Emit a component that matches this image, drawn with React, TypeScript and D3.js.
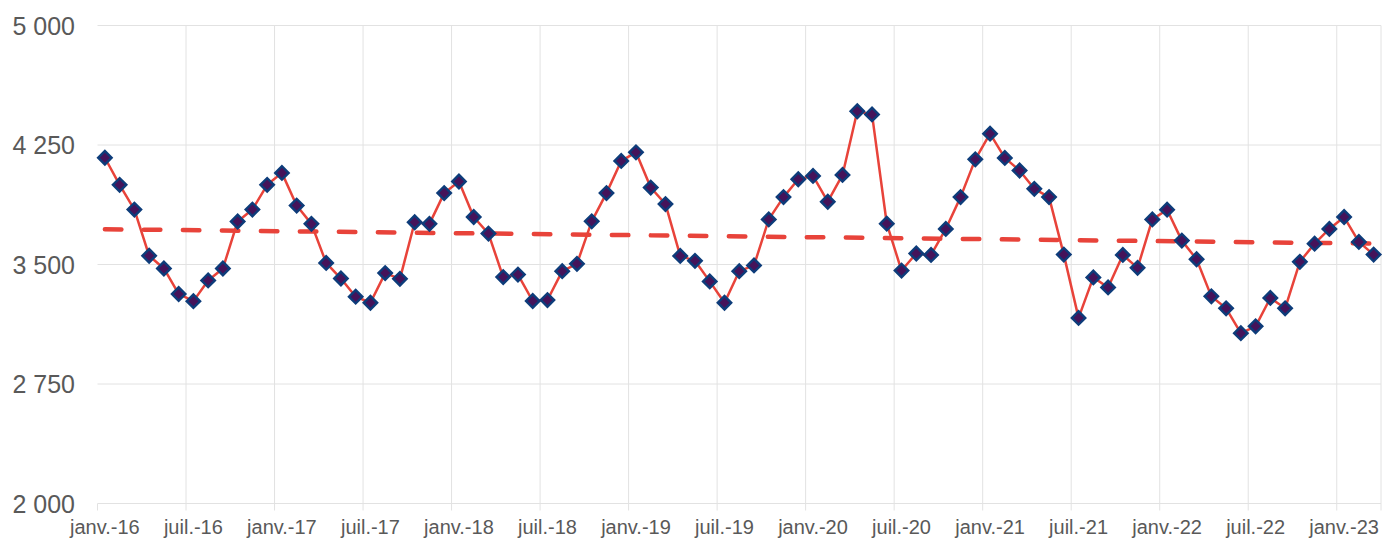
import React, { useEffect, useRef } from 'react';
import * as d3 from 'd3';

// monthly values
const v2016 = [4170, 4000, 3845, 3555, 3475, 3315, 3270, 3400, 3475, 3770, 3845, 4000];
const v2017 = [4075, 3870, 3755, 3510, 3412, 3298, 3260, 3446, 3410, 3765, 3755, 3948];
const v2018 = [4021, 3798, 3694, 3421, 3437, 3271, 3277, 3458, 3504, 3771, 3948, 4150];
const v2019 = [4204, 3983, 3879, 3554, 3523, 3394, 3260, 3458, 3494, 3783, 3923, 4035];
const v2020 = [4056, 3894, 4062, 4462, 4442, 3756, 3462, 3569, 3560, 3723, 3923, 4160];
const v2021 = [4321, 4169, 4090, 3975, 3923, 3562, 3165, 3419, 3356, 3560, 3479, 3783];
const v2022 = [3844, 3650, 3533, 3300, 3225, 3069, 3112, 3290, 3225, 3517, 3631, 3723];
const v2023 = [3798, 3642, 3562];

const values = [...v2016, ...v2017, ...v2018, ...v2019, ...v2020, ...v2021, ...v2022, ...v2023];
const months = d3.timeMonth.range(new Date(2016, 0, 1), new Date(2023, 3, 1));

const tickLabels = [
  'janv.-16', 'juil.-16', 'janv.-17', 'juil.-17', 'janv.-18', 'juil.-18', 'janv.-19', 'juil.-19',
  'janv.-20', 'juil.-20', 'janv.-21', 'juil.-21', 'janv.-22', 'juil.-22', 'janv.-23',
];
const yTicks = [2000, 2750, 3500, 4250, 5000];

const W = 1383, H = 538;
const left = 97.5, right = 1381, top = 25.5, bottom = 503.5;
const font = '"Liberation Sans", Arial, sans-serif';

export default function App() {
  const ref = useRef<SVGSVGElement>(null);

  useEffect(() => {
    const svg = d3.select(ref.current);
    svg.selectAll('*').remove();

    const x = d3.scaleBand<number>()
      .domain(d3.range(months.length))
      .range([left, right])
      .paddingInner(0)
      .paddingOuter(0);
    const cx = (i: number) => x(i)! + x.bandwidth() / 2;
    const y = d3.scaleLinear().domain([2000, 5000]).range([bottom, top]);

    const fmt = d3.formatLocale({ decimal: ',', thousands: ' ', grouping: [3], currency: ['', ''] }).format(',');
    const grid = '#e2e2e2';

    // horizontal gridlines
    svg.append('g')
      .selectAll('line')
      .data(yTicks)
      .enter().append('line')
      .attr('x1', left).attr('x2', right)
      .attr('y1', d => y(d)).attr('y2', d => y(d))
      .attr('stroke', grid).attr('stroke-width', 1);

    // vertical gridlines every 6 months (slot boundaries) + ticks
    const gridIdx = d3.range(6, months.length, 6);
    svg.append('g')
      .selectAll('line')
      .data(gridIdx)
      .enter().append('line')
      .attr('x1', d => x(d)!).attr('x2', d => x(d)!)
      .attr('y1', top).attr('y2', bottom + 7)
      .attr('stroke', grid).attr('stroke-width', 1);
    svg.append('line')
      .attr('x1', right).attr('x2', right).attr('y1', top).attr('y2', bottom + 7)
      .attr('stroke', grid);
    svg.append('line')
      .attr('x1', left).attr('x2', left).attr('y1', bottom).attr('y2', bottom + 7)
      .attr('stroke', grid);

    // y labels
    svg.append('g')
      .selectAll('text')
      .data(yTicks)
      .enter().append('text')
      .attr('x', 75).attr('y', d => y(d))
      .attr('dy', '0.36em')
      .attr('text-anchor', 'end')
      .attr('font-family', font).attr('font-size', 25)
      .attr('fill', '#595959')
      .text(d => fmt(d));

    // x labels
    svg.append('g')
      .selectAll('text')
      .data(tickLabels)
      .enter().append('text')
      .attr('x', (d, i) => cx(i * 6)).attr('y', 533.5)
      .attr('text-anchor', 'middle')
      .attr('font-family', font).attr('font-size', 20)
      .attr('fill', '#595959')
      .text(d => d);

    // series line
    const line = d3.line<number>().x((d, i) => cx(i)).y(d => y(d));
    svg.append('path')
      .datum(values)
      .attr('d', line)
      .attr('fill', 'none')
      .attr('stroke', '#e8433a')
      .attr('stroke-width', 2.5)
      .attr('stroke-linejoin', 'round');

    // linear trendline (least squares)
    const n = values.length;
    const mx = d3.mean(d3.range(n))!, my = d3.mean(values)!;
    const slope = d3.sum(values, (v, i) => (i - mx) * (v - my)) / d3.sum(d3.range(n), i => (i - mx) ** 2);
    const icpt = my - slope * mx;
    svg.append('line')
      .attr('x1', cx(0)).attr('y1', y(icpt))
      .attr('x2', cx(n - 1)).attr('y2', y(icpt + slope * (n - 1)))
      .attr('stroke', '#e8433a')
      .attr('stroke-width', 4.5)
      .attr('stroke-linecap', 'round')
      .attr('stroke-dasharray', '16.5 22.5');

    // diamond markers
    const diamond = d3.symbol().type(d3.symbolSquare).size(90);
    svg.append('g')
      .selectAll('path')
      .data(values)
      .enter().append('path')
      .attr('d', diamond)
      .attr('transform', (d, i) => `translate(${cx(i)},${y(d)}) rotate(45)`)
      .attr('fill', '#45135a')
      .attr('stroke', '#0d3c7a')
      .attr('stroke-width', 2.4);
  }, []);

  return (
    <svg ref={ref} width={W} height={H} style={{ position: 'absolute', left: 0, top: 0, display: 'block' }} />
  );
}
